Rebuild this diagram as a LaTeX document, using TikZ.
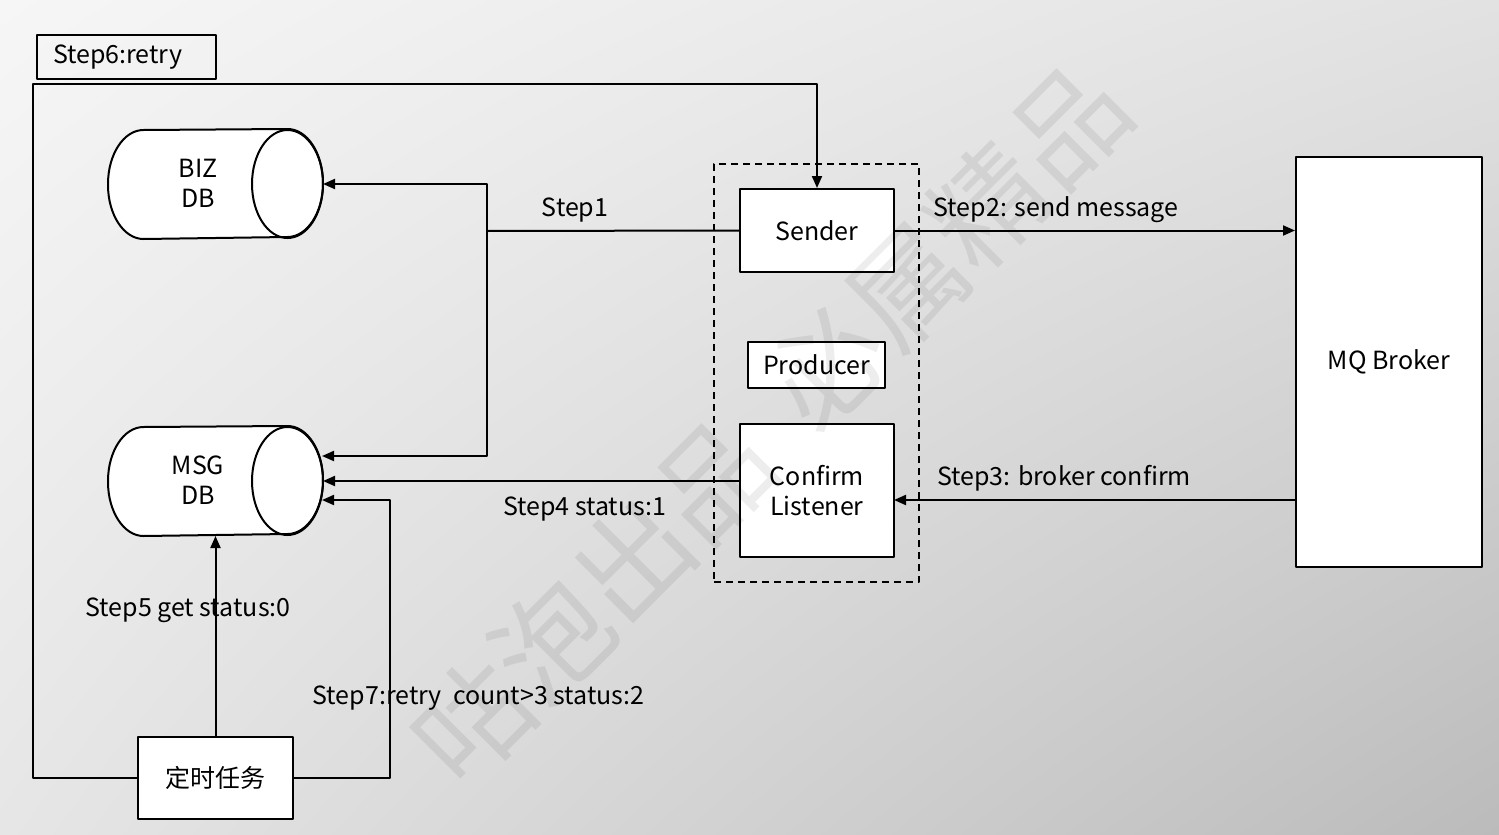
\documentclass[tikz,border=0pt]{standalone}
\usepackage{fontspec}
\setmainfont{Noto Sans CJK SC}
\usetikzlibrary{arrows.meta,shadings}
\definecolor{bgTL}{HTML}{F6F6F6}
\definecolor{bgTR}{HTML}{E2E2E2}
\definecolor{bgBL}{HTML}{E6E6E6}
\definecolor{bgBR}{HTML}{BBBBBB}
\begin{document}
\begin{tikzpicture}[x=1pt,y=-1pt,
  line width=2pt, line join=round,
  box/.style={draw, fill=white, line width=2pt, inner sep=0pt, align=center,
    font=\fontsize{25}{30}\selectfont},
  lbl/.style={inner sep=0pt, anchor=base, font=\fontsize{25}{30}\selectfont},
  arr/.style={-{Triangle[length=12pt,width=10pt]}},
  dbshape/.style={draw, fill=white, line width=2pt},
]
\useasboundingbox (0,0) rectangle (1499,835);
\shade[upper left=bgTL, upper right=bgTR, lower left=bgBL, lower right=bgBR]
  (0,0) rectangle (1499,835);

% producer group (dashed)
\node[draw, dash pattern=on 7pt off 5pt, line width=2pt,
  minimum width=205pt, minimum height=418pt, inner sep=0pt] (group) at (816.5,373) {};

% invisible frames of the databases
\node[minimum width=213pt, minimum height=108pt, inner sep=0pt] (biz) at (215.5,184) {};
\node[minimum width=213pt, minimum height=108pt, inner sep=0pt] (msg) at (215.5,481) {};

% boxes
\node[box, minimum width=154pt, minimum height=83pt] (sender) at (817,230.5) {Sender};
\node[box, minimum width=137pt, minimum height=46pt] (producer) at (816.5,365) {Producer};
\node[box, minimum width=154pt, minimum height=133pt] (listener) at (817,490.5) {Confirm\\Listener};
\node[box, minimum width=186pt, minimum height=410pt] (mq) at (1389,362) {MQ Broker};
\node[box, minimum width=155pt, minimum height=82pt] (task) at (215.5,778) {定时任务};
\node[box, fill=none, inner xsep=16pt, text width=147pt, minimum height=44pt, align=left]
  (s6box) at (126.5,57) {\raisebox{-2pt}{Step6:retry}};

% coordinates for connectors
\coordinate (j1) at (487,231);
\coordinate (msgA) at (322,456);
\coordinate (msgC) at (322,500);
\coordinate (s7c) at (390,500);
\coordinate (loopTL) at (33,84);
\coordinate (loopTR) at (817,84);
\coordinate (mqC) at (1296,500);
\coordinate (lsC) at (894,500);

% connectors
\draw (sender.west) -- (j1);
\draw[arr] (j1) |- (biz.east);
\draw[arr] (j1) |- (msgA);
\draw[arr] (sender.east) -- (sender.east -| mq.west);
\draw[arr] (mqC) -- (lsC);
\draw[arr] (listener.west |- msg.east) -- (msg.east);
\draw[arr] (task.north) -- (msg.south);
\draw[arr] (task.west) -| (loopTL) -- (loopTR) -- (sender.north);
\draw[arr] (task.east) -| (s7c) -- (msgC);

% databases
\draw[dbshape] (biz.west)
  arc[start angle=180, end angle=90, x radius=35.5pt, y radius=54pt]
  -- ([xshift=-35.5pt]biz.north east)
  arc[start angle=90, end angle=-90, x radius=35.5pt, y radius=54pt]
  -- ([xshift=35.5pt]biz.south west)
  arc[start angle=270, end angle=180, x radius=35.5pt, y radius=54pt] -- cycle;
\draw ([xshift=-35.5pt]biz.east) ellipse[x radius=35.5pt, y radius=54pt];
\draw[dbshape] (msg.west)
  arc[start angle=180, end angle=90, x radius=35.5pt, y radius=54pt]
  -- ([xshift=-35.5pt]msg.north east)
  arc[start angle=90, end angle=-90, x radius=35.5pt, y radius=54pt]
  -- ([xshift=35.5pt]msg.south west)
  arc[start angle=270, end angle=180, x radius=35.5pt, y radius=54pt] -- cycle;
\draw ([xshift=-35.5pt]msg.east) ellipse[x radius=35.5pt, y radius=54pt];
\node[align=center, inner sep=0pt, font=\fontsize{25}{30}\selectfont] (biztext) at (198,183) {BIZ\\DB};
\node[align=center, inner sep=0pt, font=\fontsize{25}{30}\selectfont] (msgtext) at (198,480) {MSG\\DB};

% labels
\node[lbl] (l1) at (575,216) {Step1};
\node[lbl] (l2) at (1056,216) {Step2: send message};
\node[lbl] (l3) at (1064,485) {Step3: broker confirm};
\node[lbl] (l4) at (584.5,515) {Step4 status:1};
\node[lbl] (l5) at (188,616) {Step5 get status:0};
\node[lbl] (l7) at (478.5,704) {Step7:retry\ \ count>3 status:2};

% watermark
\node[rotate=45, text=black, text opacity=0.07, inner sep=0pt,
  font=\fontsize{114}{114}\selectfont] (wm) at (770,423) {咕泡出品\hspace{0.4em}必属精品};
\end{tikzpicture}
\end{document}
